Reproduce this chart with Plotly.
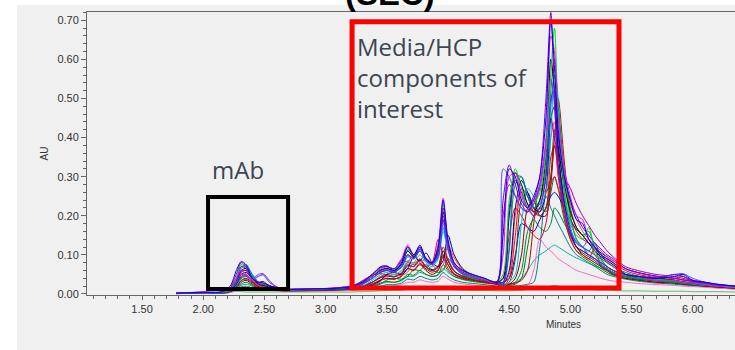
import plotly.graph_objects as go

# Retention time grid (minutes), shared by all chromatogram traces
minutes = [1.78, 2.00, 2.15, 2.22, 2.27, 2.31, 2.35, 2.40, 2.45, 2.49, 2.54, 2.59, 2.65,
           2.75, 2.90, 3.05, 3.20,
           3.30, 3.38, 3.45, 3.50, 3.56, 3.62, 3.67, 3.72, 3.77, 3.82, 3.87, 3.92, 3.96, 4.00,
           4.05, 4.12, 4.20, 4.30, 4.40,
           4.45, 4.50, 4.55, 4.60, 4.65, 4.70, 4.75, 4.80, 4.84, 4.87, 4.90, 4.95, 5.00, 5.05,
           5.10, 5.15, 5.20, 5.25, 5.30, 5.35,
           5.45, 5.55, 5.70, 5.85, 5.92, 6.00, 6.10, 6.20, 6.35]

# Absorbance (AU) of each injection
au_blue = [0.002, 0.004,
           0.006, 0.02, 0.06, 0.083, 0.075, 0.04, 0.03, 0.032, 0.02, 0.018, 0.012,
           0.012, 0.013, 0.014, 0.018,
           0.03, 0.05, 0.07, 0.072, 0.06, 0.08, 0.12, 0.10, 0.125, 0.09, 0.08, 0.12, 0.24, 0.14, 0.08, 0.06, 0.05, 0.04, 0.03,
           0.15, 0.32, 0.30, 0.24, 0.22, 0.25, 0.30, 0.45, 0.70, 0.58, 0.42, 0.30, 0.24, 0.19, 0.18, 0.14, 0.12, 0.10, 0.09, 0.08,
           0.05, 0.045, 0.04, 0.045, 0.05, 0.035, 0.03, 0.025, 0.02]
au_magenta = [0.002, 0.005,
              0.005, 0.015, 0.04, 0.06, 0.05, 0.035, 0.045, 0.05, 0.03, 0.02, 0.012,
              0.012, 0.013, 0.015, 0.02,
              0.03, 0.045, 0.065, 0.07, 0.065, 0.09, 0.125, 0.10, 0.12, 0.09, 0.08, 0.13, 0.245, 0.13, 0.075, 0.055, 0.045, 0.035, 0.03,
              0.10, 0.30, 0.31, 0.25, 0.22, 0.24, 0.28, 0.40, 0.66, 0.62, 0.45, 0.32, 0.25, 0.20, 0.19, 0.14, 0.12, 0.10, 0.085, 0.07,
              0.05, 0.045, 0.035, 0.035, 0.03, 0.028, 0.025, 0.02, 0.018]
au_green = [0.002, 0.004,
            0.004, 0.012, 0.035, 0.07, 0.07, 0.05, 0.03, 0.025, 0.02, 0.015, 0.01,
            0.01, 0.011, 0.012, 0.015,
            0.025, 0.04, 0.055, 0.06, 0.055, 0.07, 0.10, 0.09, 0.11, 0.085, 0.075, 0.10, 0.19, 0.12, 0.07, 0.05, 0.04, 0.035, 0.03,
            0.03, 0.12, 0.28, 0.30, 0.25, 0.22, 0.24, 0.32, 0.52, 0.60, 0.48, 0.32, 0.22, 0.17, 0.15, 0.16, 0.12, 0.10, 0.08, 0.07,
            0.045, 0.04, 0.035, 0.03, 0.028, 0.026, 0.022, 0.02, 0.017]
au_red = [0.002, 0.003,
          0.003, 0.008, 0.02, 0.045, 0.05, 0.035, 0.02, 0.018, 0.015, 0.012, 0.01,
          0.01, 0.01, 0.011, 0.013,
          0.02, 0.03, 0.045, 0.05, 0.045, 0.055, 0.08, 0.075, 0.09, 0.07, 0.06, 0.07, 0.12, 0.09, 0.06, 0.045, 0.04, 0.03, 0.025,
          0.02, 0.04, 0.15, 0.27, 0.25, 0.21, 0.20, 0.22, 0.35, 0.38, 0.30, 0.20, 0.14, 0.11, 0.10, 0.09, 0.12, 0.07, 0.06, 0.05,
          0.045, 0.04, 0.035, 0.04, 0.045, 0.03, 0.025, 0.02, 0.016]
au_black = [0.002, 0.004,
            0.004, 0.01, 0.03, 0.06, 0.065, 0.045, 0.03, 0.028, 0.022, 0.016, 0.012,
            0.012, 0.012, 0.013, 0.016,
            0.028, 0.045, 0.06, 0.065, 0.06, 0.075, 0.11, 0.095, 0.12, 0.09, 0.08, 0.11, 0.21, 0.13, 0.075, 0.055, 0.045, 0.035, 0.03,
            0.04, 0.20, 0.31, 0.28, 0.23, 0.21, 0.24, 0.35, 0.60, 0.52, 0.38, 0.28, 0.21, 0.17, 0.15, 0.13, 0.11, 0.095, 0.085, 0.075,
            0.05, 0.045, 0.04, 0.035, 0.03, 0.028, 0.024, 0.02, 0.018]
au_cyan = [0.002, 0.003,
           0.003, 0.008, 0.02, 0.04, 0.045, 0.04, 0.045, 0.048, 0.03, 0.02, 0.012,
           0.011, 0.012, 0.013, 0.015,
           0.02, 0.035, 0.05, 0.055, 0.05, 0.06, 0.085, 0.08, 0.10, 0.08, 0.07, 0.09, 0.16, 0.11, 0.07, 0.05, 0.04, 0.035, 0.03,
           0.02, 0.03, 0.05, 0.18, 0.27, 0.25, 0.22, 0.26, 0.40, 0.58, 0.50, 0.30, 0.19, 0.14, 0.12, 0.10, 0.09, 0.075, 0.065, 0.055,
           0.045, 0.04, 0.035, 0.03, 0.028, 0.025, 0.022, 0.02, 0.016]
au_maroon = [0.001, 0.003,
             0.002, 0.006, 0.015, 0.03, 0.035, 0.025, 0.015, 0.014, 0.012, 0.01, 0.008,
             0.008, 0.009, 0.01, 0.012,
             0.018, 0.025, 0.035, 0.04, 0.038, 0.045, 0.065, 0.06, 0.075, 0.06, 0.05, 0.06, 0.10, 0.075, 0.05, 0.04, 0.035, 0.03, 0.025,
             0.02, 0.025, 0.04, 0.10, 0.22, 0.24, 0.20, 0.20, 0.28, 0.38, 0.33, 0.22, 0.15, 0.12, 0.10, 0.09, 0.08, 0.07, 0.06, 0.05,
             0.04, 0.036, 0.03, 0.028, 0.025, 0.023, 0.02, 0.018, 0.015]
au_purple = [0.002, 0.005,
             0.005, 0.016, 0.05, 0.08, 0.07, 0.04, 0.03, 0.028, 0.02, 0.016, 0.012,
             0.012, 0.013, 0.015, 0.02,
             0.032, 0.05, 0.068, 0.07, 0.065, 0.085, 0.12, 0.10, 0.12, 0.09, 0.08, 0.12, 0.22, 0.13, 0.08, 0.06, 0.05, 0.04, 0.032,
             0.24, 0.33, 0.28, 0.23, 0.21, 0.24, 0.30, 0.50, 0.72, 0.50, 0.32, 0.21, 0.15, 0.12, 0.11, 0.10, 0.09, 0.08, 0.07, 0.06,
             0.05, 0.045, 0.04, 0.05, 0.045, 0.035, 0.03, 0.024, 0.02]
au_navy = [0.002, 0.004,
           0.003, 0.009, 0.025, 0.05, 0.055, 0.04, 0.025, 0.022, 0.018, 0.014, 0.01,
           0.01, 0.011, 0.012, 0.014,
           0.018, 0.022, 0.035, 0.05, 0.055, 0.05, 0.065, 0.095, 0.085, 0.105, 0.08, 0.07, 0.085, 0.15, 0.10, 0.065, 0.048, 0.036, 0.028,
           0.025, 0.06, 0.22, 0.29, 0.26, 0.22, 0.21, 0.26, 0.45, 0.48, 0.36, 0.23, 0.16, 0.12, 0.11, 0.10, 0.09, 0.075, 0.065, 0.055,
           0.045, 0.04, 0.035, 0.03, 0.028, 0.025, 0.022, 0.019, 0.016]
au_dkgreen = [0.001, 0.002,
              0.002, 0.005, 0.012, 0.025, 0.03, 0.022, 0.014, 0.013, 0.011, 0.01, 0.008,
              0.008, 0.009, 0.01, 0.011,
              0.015, 0.02, 0.028, 0.032, 0.03, 0.036, 0.05, 0.048, 0.06, 0.05, 0.045, 0.05, 0.075, 0.06, 0.045, 0.037, 0.032, 0.028, 0.024,
              0.02, 0.022, 0.025, 0.04, 0.12, 0.20, 0.22, 0.21, 0.26, 0.30, 0.27, 0.19, 0.14, 0.11, 0.095, 0.085, 0.075, 0.065, 0.055, 0.048,
              0.04, 0.035, 0.03, 0.027, 0.025, 0.022, 0.02, 0.017, 0.014]
au_teal = [0.001, 0.002,
           0.002, 0.004, 0.01, 0.018, 0.02, 0.016, 0.012, 0.011, 0.01, 0.009, 0.008,
           0.008, 0.008, 0.009, 0.01,
           0.012, 0.016, 0.02, 0.024, 0.024, 0.028, 0.038, 0.036, 0.045, 0.04, 0.036, 0.04, 0.055, 0.045, 0.036, 0.03, 0.027, 0.024, 0.02,
           0.018, 0.02, 0.02, 0.022, 0.025, 0.03, 0.12, 0.25, 0.22, 0.20, 0.18, 0.15, 0.12, 0.10, 0.09, 0.08, 0.07, 0.06, 0.05, 0.045,
           0.038, 0.033, 0.028, 0.025, 0.023, 0.021, 0.019, 0.016, 0.013]
au_ltblue = [0.002, 0.004,
             0.004, 0.01, 0.028, 0.05, 0.045, 0.04, 0.05, 0.052, 0.035, 0.02, 0.012,
             0.012, 0.012, 0.014, 0.017,
             0.026, 0.04, 0.058, 0.062, 0.058, 0.072, 0.10, 0.09, 0.11, 0.085, 0.075, 0.10, 0.18, 0.12, 0.07, 0.052, 0.044, 0.036, 0.03,
             0.32, 0.30, 0.25, 0.22, 0.21, 0.23, 0.27, 0.38, 0.55, 0.48, 0.32, 0.22, 0.16, 0.13, 0.12, 0.14, 0.10, 0.08, 0.07, 0.06,
             0.05, 0.045, 0.04, 0.05, 0.052, 0.04, 0.03, 0.025, 0.02]
au_pink = [0.001, 0.002,
           0.002, 0.004, 0.008, 0.015, 0.018, 0.014, 0.011, 0.01, 0.009, 0.008, 0.007,
           0.007, 0.008, 0.008, 0.009,
           0.011, 0.014, 0.018, 0.02, 0.02, 0.024, 0.03, 0.03, 0.036, 0.032, 0.03, 0.033, 0.045, 0.038, 0.03, 0.026, 0.023, 0.02, 0.018,
           0.016, 0.017, 0.018, 0.02, 0.022, 0.06, 0.14, 0.12, 0.11, 0.10, 0.09, 0.08, 0.07, 0.06, 0.055, 0.05, 0.045, 0.04, 0.036, 0.033,
           0.03, 0.027, 0.024, 0.022, 0.02, 0.019, 0.017, 0.015, 0.012]
au_gray = [0.002, 0.003,
           0.003, 0.008, 0.022, 0.042, 0.048, 0.036, 0.022, 0.02, 0.016, 0.013, 0.01,
           0.01, 0.01, 0.011, 0.013,
           0.02, 0.03, 0.042, 0.047, 0.044, 0.052, 0.075, 0.07, 0.085, 0.068, 0.06, 0.068, 0.11, 0.085, 0.058, 0.045, 0.038, 0.032, 0.027,
           0.022, 0.03, 0.09, 0.24, 0.26, 0.22, 0.20, 0.22, 0.30, 0.42, 0.36, 0.24, 0.16, 0.12, 0.105, 0.095, 0.085, 0.072, 0.062, 0.052,
           0.043, 0.038, 0.033, 0.03, 0.027, 0.024, 0.021, 0.018, 0.015]
au_lime = [0.002, 0.004,
           0.004, 0.012, 0.04, 0.075, 0.068, 0.045, 0.03, 0.026, 0.02, 0.015, 0.011,
           0.011, 0.012, 0.014, 0.018,
           0.03, 0.048, 0.066, 0.07, 0.063, 0.08, 0.115, 0.098, 0.12, 0.09, 0.082, 0.115, 0.23, 0.13, 0.078, 0.058, 0.048, 0.038, 0.031,
           0.05, 0.24, 0.32, 0.27, 0.22, 0.23, 0.26, 0.36, 0.56, 0.68, 0.46, 0.27, 0.18, 0.15, 0.14, 0.17, 0.11, 0.085, 0.07, 0.06,
           0.05, 0.045, 0.038, 0.034, 0.03, 0.028, 0.024, 0.02, 0.017]
au_base = [0.002, 0.003,
           0.004, 0.006, 0.007, 0.006, 0.005, 0.005, 0.005, 0.005, 0.005, 0.005, 0.005,
           0.005, 0.005, 0.005, 0.005,
           0.006, 0.007, 0.008, 0.009, 0.009, 0.01, 0.012, 0.012, 0.013, 0.012, 0.011, 0.012, 0.014, 0.012, 0.011, 0.01, 0.009, 0.009, 0.008,
           0.008, 0.008, 0.009, 0.01, 0.012, 0.013, 0.015, 0.016, 0.02, 0.022, 0.02, 0.018, 0.016, 0.014, 0.013, 0.012, 0.011, 0.01, 0.01, 0.009,
           0.008, 0.008, 0.007, 0.007, 0.007, 0.006, 0.006, 0.006, 0.005]
au_red2 = [0.002, 0.003,
           0.003, 0.007, 0.018, 0.035, 0.04, 0.03, 0.018, 0.016, 0.014, 0.012, 0.01,
           0.01, 0.01, 0.011, 0.012,
           0.018, 0.026, 0.036, 0.04, 0.038, 0.046, 0.065, 0.062, 0.078, 0.064, 0.056, 0.062, 0.095, 0.075, 0.052, 0.042, 0.036, 0.03, 0.026,
           0.022, 0.024, 0.028, 0.035, 0.06, 0.18, 0.27, 0.26, 0.30, 0.40, 0.50, 0.34, 0.20, 0.14, 0.12, 0.10, 0.09, 0.075, 0.065, 0.055,
           0.045, 0.04, 0.034, 0.03, 0.027, 0.024, 0.021, 0.018, 0.015]
au_blue2 = [0.002, 0.003,
            0.003, 0.009, 0.03, 0.065, 0.075, 0.05, 0.03, 0.026, 0.02, 0.015, 0.011,
            0.011, 0.012, 0.013, 0.016,
            0.024, 0.04, 0.056, 0.062, 0.058, 0.068, 0.095, 0.092, 0.115, 0.088, 0.075, 0.095, 0.17, 0.115, 0.07, 0.052, 0.043, 0.035, 0.029,
            0.025, 0.11, 0.30, 0.30, 0.25, 0.22, 0.23, 0.30, 0.48, 0.56, 0.42, 0.26, 0.17, 0.13, 0.12, 0.11, 0.13, 0.09, 0.07, 0.06,
            0.05, 0.045, 0.04, 0.034, 0.03, 0.027, 0.023, 0.02, 0.017]
au_crimson = [0.002, 0.003,
              0.003, 0.008, 0.025, 0.055, 0.06, 0.04, 0.025, 0.022, 0.018, 0.014, 0.011,
              0.011, 0.011, 0.012, 0.016,
              0.034, 0.048, 0.052, 0.05, 0.06, 0.088, 0.082, 0.10, 0.08, 0.07, 0.08, 0.14, 0.10, 0.065, 0.05, 0.042, 0.038, 0.034, 0.03,
              0.04, 0.15, 0.22, 0.20, 0.17, 0.15, 0.14, 0.18, 0.28, 0.30, 0.27, 0.22, 0.19, 0.16, 0.14, 0.13, 0.115, 0.10, 0.09, 0.08,
              0.06, 0.05, 0.042, 0.036, 0.032, 0.029, 0.025, 0.021, 0.018]
au_dkblue = [0.002, 0.003,
             0.003, 0.007, 0.02, 0.04, 0.045, 0.032, 0.02, 0.018, 0.015, 0.012, 0.01,
             0.01, 0.01, 0.011, 0.013,
             0.02, 0.03, 0.042, 0.046, 0.044, 0.052, 0.072, 0.07, 0.088, 0.07, 0.062, 0.07, 0.11, 0.085, 0.058, 0.046, 0.04, 0.034, 0.03,
             0.03, 0.04, 0.10, 0.18, 0.17, 0.16, 0.19, 0.22, 0.25, 0.26, 0.25, 0.22, 0.19, 0.165, 0.15, 0.13, 0.12, 0.105, 0.095, 0.085,
             0.065, 0.055, 0.045, 0.04, 0.036, 0.032, 0.027, 0.022, 0.019]
au_teal2 = [0.001, 0.002,
            0.002, 0.005, 0.012, 0.022, 0.025, 0.02, 0.014, 0.012, 0.011, 0.01, 0.009,
            0.009, 0.009, 0.01, 0.011,
            0.015, 0.02, 0.026, 0.03, 0.03, 0.034, 0.045, 0.045, 0.055, 0.05, 0.045, 0.048, 0.065, 0.055, 0.045, 0.038, 0.034, 0.03, 0.027,
            0.025, 0.026, 0.03, 0.04, 0.06, 0.085, 0.10, 0.11, 0.12, 0.125, 0.12, 0.11, 0.10, 0.092, 0.085, 0.078, 0.072, 0.066, 0.06, 0.055,
            0.048, 0.042, 0.036, 0.032, 0.03, 0.027, 0.024, 0.02, 0.017]
au_violet = [0.002, 0.004,
             0.004, 0.012, 0.04, 0.07, 0.065, 0.042, 0.03, 0.027, 0.02, 0.016, 0.012,
             0.012, 0.013, 0.014, 0.017,
             0.028, 0.045, 0.062, 0.066, 0.06, 0.078, 0.11, 0.095, 0.115, 0.088, 0.078, 0.105, 0.20, 0.125, 0.075, 0.056, 0.046, 0.037, 0.031,
             0.20, 0.28, 0.25, 0.22, 0.21, 0.23, 0.28, 0.38, 0.45, 0.40, 0.35, 0.30, 0.27, 0.23, 0.20, 0.175, 0.15, 0.13, 0.11, 0.095,
             0.07, 0.06, 0.05, 0.045, 0.04, 0.034, 0.029, 0.024, 0.02]
au_indigo = [0.002, 0.004,
             0.004, 0.01, 0.03, 0.058, 0.06, 0.04, 0.028, 0.025, 0.02, 0.015, 0.011,
             0.011, 0.012, 0.013, 0.016,
             0.026, 0.04, 0.056, 0.06, 0.056, 0.07, 0.10, 0.09, 0.11, 0.085, 0.075, 0.10, 0.19, 0.12, 0.072, 0.054, 0.045, 0.036, 0.03,
             0.03, 0.22, 0.29, 0.26, 0.22, 0.20, 0.22, 0.30, 0.50, 0.52, 0.40, 0.30, 0.24, 0.20, 0.17, 0.15, 0.13, 0.115, 0.10, 0.09,
             0.065, 0.055, 0.046, 0.04, 0.036, 0.032, 0.027, 0.022, 0.019]
au_forest = [0.001, 0.003,
             0.003, 0.007, 0.018, 0.034, 0.038, 0.028, 0.018, 0.016, 0.014, 0.012, 0.01,
             0.01, 0.01, 0.011, 0.012,
             0.015, 0.018, 0.026, 0.036, 0.04, 0.038, 0.045, 0.062, 0.06, 0.075, 0.062, 0.055, 0.06, 0.09, 0.072, 0.05, 0.04, 0.032, 0.026,
             0.022, 0.025, 0.03, 0.06, 0.16, 0.19, 0.17, 0.16, 0.18, 0.22, 0.21, 0.18, 0.155, 0.135, 0.12, 0.11, 0.10, 0.09, 0.08, 0.07,
             0.055, 0.046, 0.038, 0.034, 0.031, 0.028, 0.024, 0.02, 0.017]
au_salmon = [0.002, 0.003,
             0.003, 0.009, 0.026, 0.05, 0.05, 0.036, 0.022, 0.02, 0.017, 0.013, 0.01,
             0.01, 0.011, 0.012, 0.014,
             0.018, 0.02, 0.032, 0.046, 0.05, 0.047, 0.056, 0.08, 0.076, 0.092, 0.074, 0.064, 0.074, 0.125, 0.092, 0.062, 0.045, 0.036, 0.029,
             0.026, 0.05, 0.20, 0.26, 0.23, 0.20, 0.21, 0.27, 0.40, 0.44, 0.37, 0.29, 0.23, 0.19, 0.16, 0.14, 0.125, 0.11, 0.095, 0.085,
             0.064, 0.054, 0.045, 0.04, 0.036, 0.032, 0.027, 0.022, 0.019]

series = [
    ("base", au_base, "#5cc05c"),
    ("teal2", au_teal2, "#00b0b0"),
    ("dkgreen", au_dkgreen, "#008000"),
    ("teal", au_teal, "#008080"),
    ("pink", au_pink, "#ff66cc"),
    ("forest", au_forest, "#008040"),
    ("maroon", au_maroon, "#800000"),
    ("dkblue", au_dkblue, "#0000c0"),
    ("red", au_red, "#ff0000"),
    ("crimson", au_crimson, "#e00040"),
    ("gray", au_gray, "#404040"),
    ("red2", au_red2, "#c00000"),
    ("salmon", au_salmon, "#ff4040"),
    ("navy", au_navy, "#000080"),
    ("cyan", au_cyan, "#00c0c0"),
    ("green", au_green, "#00a000"),
    ("violet", au_violet, "#a000a0"),
    ("blue2", au_blue2, "#0060ff"),
    ("black", au_black, "#000000"),
    ("indigo", au_indigo, "#6000ff"),
    ("ltblue", au_ltblue, "#5050ff"),
    ("lime", au_lime, "#00e000"),
    ("magenta", au_magenta, "#ff00ff"),
    ("purple", au_purple, "#8000c0"),
    ("blue", au_blue, "#0000ff"),
]

for name, vals, _ in series:
    assert len(vals) == len(minutes), (name, len(vals))

x_ticks = [1.5, 2.0, 2.5, 3.0, 3.5, 4.0, 4.5, 5.0, 5.5, 6.0]
y_ticks = [0.0, 0.1, 0.2, 0.3, 0.4, 0.5, 0.6, 0.7]

fig = go.Figure()
for name, vals, color in series:
    fig.add_trace(go.Scatter(x=minutes, y=vals, mode="lines", name=name,
                             line=dict(color=color, width=1, shape="spline", smoothing=0.8),
                             showlegend=False, hoverinfo="skip"))

W, H = 735, 350
ML, MT, MB = 87, 12, 55
PH = H - MT - MB


def px_x(p):
    return (p - ML) / (W - ML)


def px_y(p):
    return (H - MB - p) / PH


fig.update_layout(
    width=W, height=H,
    margin=dict(l=ML, r=0, t=MT, b=MB, pad=0),
    paper_bgcolor="white",
    plot_bgcolor="#f0f0f0",
    font=dict(family="Liberation Sans, Arial", size=11, color="#333333"),
    xaxis=dict(range=[1.05, 6.345], tickvals=x_ticks, tickformat=".2f",
               ticks="outside", ticklen=4, tickcolor="#666", showline=True, linecolor="#666",
               linewidth=1, mirror=True, showgrid=False, zeroline=False,
               minor=dict(dtick=0.1, tick0=0, ticks="outside", ticklen=3, tickcolor="#666", showgrid=False),
               tickfont=dict(size=11, color="#333")),
    yaxis=dict(range=[-0.0026, 0.7212], tickvals=y_ticks, tickformat=".2f",
               ticks="outside", ticklen=5, tickcolor="#666", showline=True, linecolor="#666",
               linewidth=1, showgrid=False, zeroline=False,
               minor=dict(dtick=0.02, tick0=0, ticks="outside", ticklen=3, tickcolor="#666", showgrid=False),
               tickfont=dict(size=11, color="#333"),
               title=dict(text="AU", font=dict(size=10, color="#333"), standoff=6)),
)

# grey panel behind the chart
fig.add_shape(type="rect", xref="paper", yref="paper", x0=px_x(17), x1=px_x(740),
              y0=px_y(355), y1=px_y(5), fillcolor="#f0f0f0", line=dict(width=0), layer="below")

# highlight boxes
fig.add_shape(type="rect", xref="x", yref="y", x0=2.039, x1=2.693, y0=0.013, y1=0.248,
              line=dict(color="black", width=4), fillcolor="rgba(0,0,0,0)")
fig.add_shape(type="rect", xref="x", yref="y", x0=3.216, x1=5.397, y0=0.015, y1=0.696,
              line=dict(color="#ff0000", width=5), fillcolor="rgba(0,0,0,0)")

txt_color = "#3c4550"
fig.add_annotation(xref="paper", yref="paper", x=px_x(355), y=px_y(28), xanchor="left", yanchor="top",
                   text="Media/HCP<br>components of<br>interest", showarrow=False, align="left",
                   font=dict(family="Open Sans", size=24, color=txt_color))
fig.add_annotation(xref="paper", yref="paper", x=px_x(210), y=px_y(151), xanchor="left", yanchor="top",
                   text="mAb", showarrow=False, font=dict(family="Open Sans", size=24, color=txt_color))
fig.add_annotation(xref="paper", yref="paper", x=px_x(390), y=px_y(14), xanchor="center", yanchor="bottom",
                   text="<b>(SEC)</b>", showarrow=False,
                   font=dict(family="Liberation Sans", size=33, color="black"))
fig.add_annotation(xref="paper", yref="paper", x=px_x(563), y=px_y(324), xanchor="center", yanchor="middle",
                   text="Minutes", showarrow=False, font=dict(size=10, color="#333"))

fig.write_html("out.html")
